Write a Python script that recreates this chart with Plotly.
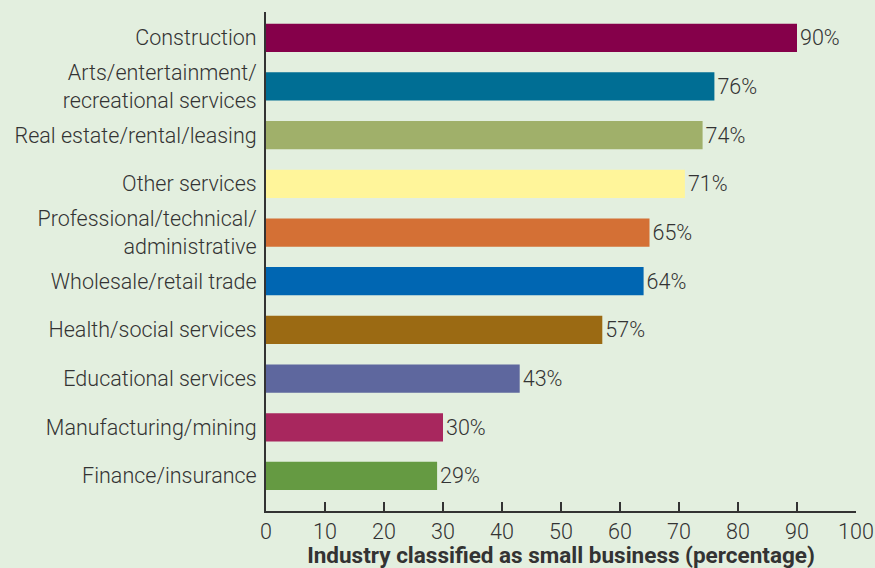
import plotly.graph_objects as go

# Share of each industry's firms classified as small businesses (%)
industries = [
    "Finance/insurance",
    "Manufacturing/mining",
    "Educational services",
    "Health/social services",
    "Wholesale/retail trade",
    "Professional/technical/<br>administrative",
    "Other services",
    "Real estate/rental/leasing",
    "Arts/entertainment/<br>recreational services",
    "Construction",
]
percent_small = [29, 30, 43, 57, 64, 65, 71, 74, 76, 90]
bar_colors = [
    "#659a42", "#a8275e", "#5e679e", "#9b6a13", "#0066b2",
    "#d47035", "#fff59a", "#a0b06a", "#006e94", "#85004a",
]
x_ticks = list(range(0, 101, 10))

BG = "#e3efdf"
INK = "#333333"
LABEL_FONT = dict(family="Roboto", size=21.5, color=INK, weight=300)

fig = go.Figure(
    go.Bar(
        y=list(range(len(industries))),
        x=percent_small,
        orientation="h",
        marker=dict(color=bar_colors, line=dict(width=0)),
        width=0.58,
        text=[f"{v}%" for v in percent_small],
        textposition="outside",
        textfont=LABEL_FONT,
        cliponaxis=False,
    )
)

fig.update_layout(
    width=875,
    height=568,
    margin=dict(l=266, r=19, t=12, b=57),
    paper_bgcolor=BG,
    plot_bgcolor=BG,
    showlegend=False,
    font=dict(family="Roboto", color=INK),
)

fig.update_xaxes(
    range=[0, 100],
    tickvals=x_ticks,
    ticktext=[str(t) for t in x_ticks],
    ticks="inside",
    ticklen=9,
    tickwidth=1.5,
    tickcolor=INK,
    showline=True,
    linecolor=INK,
    linewidth=2,
    showgrid=False,
    zeroline=False,
    automargin=False,
    tickfont=LABEL_FONT,
    title=dict(
        text="Industry classified as small business (percentage)",
        font=dict(family="Roboto", size=22.5, color=INK, weight="bold"),
        standoff=1,
    ),
)

fig.update_yaxes(
    range=[-0.72, 9.53],
    tickvals=list(range(len(industries))),
    ticktext=industries,
    ticks="",
    showline=True,
    linecolor=INK,
    linewidth=2,
    showgrid=False,
    zeroline=False,
    automargin=False,
    ticklabelstandoff=3,
    tickfont=LABEL_FONT,
)

fig.write_html("out.html")
